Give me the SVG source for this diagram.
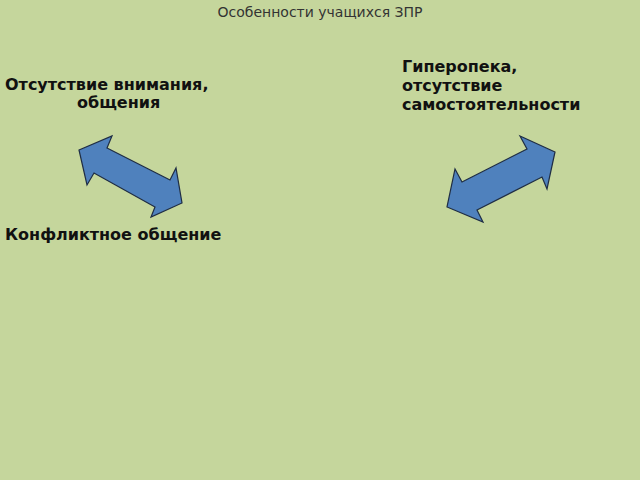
<svg xmlns="http://www.w3.org/2000/svg" width="640" height="480" viewBox="0 0 640 480">
<style>
.t{font-family:"DejaVu Sans","Noto Sans",sans-serif;font-size:14px;fill:#333}
.b{font-family:"DejaVu Sans","Noto Sans",sans-serif;font-weight:bold;font-size:16px;fill:#111}
.arr{fill:#4f81bd;stroke:#1f2d44;stroke-width:1.2;stroke-linejoin:miter}
</style>
<rect width="640" height="480" fill="#c5d69c"/>
<g id="title"><text class="t" x="320" y="17" text-anchor="middle">Особенности учащихся ЗПР</text></g>
<g id="node-attention"><text class="b" x="5" y="90">Отсутствие внимания,</text><text class="b" x="77" y="108">общения</text></g>
<g id="node-hyper"><text class="b" x="402" y="72">Гиперопека,</text><text class="b" x="402" y="91">отсутствие</text><text class="b" x="402" y="110">самостоятельности</text></g>
<g id="node-conflict"><text class="b" x="5" y="240">Конфликтное общение</text></g>
<g id="connectors">
<polygon class="arr" points="79,150 112,136 107,148 170,180 176,168 182,203 151,217 155,207 94,173 87,185"/>
<polygon class="arr" points="555,152 520,136 527,149 462,182 455,169 447,207 483,222 477,210 542,177 547,189"/>
</g>
</svg>
